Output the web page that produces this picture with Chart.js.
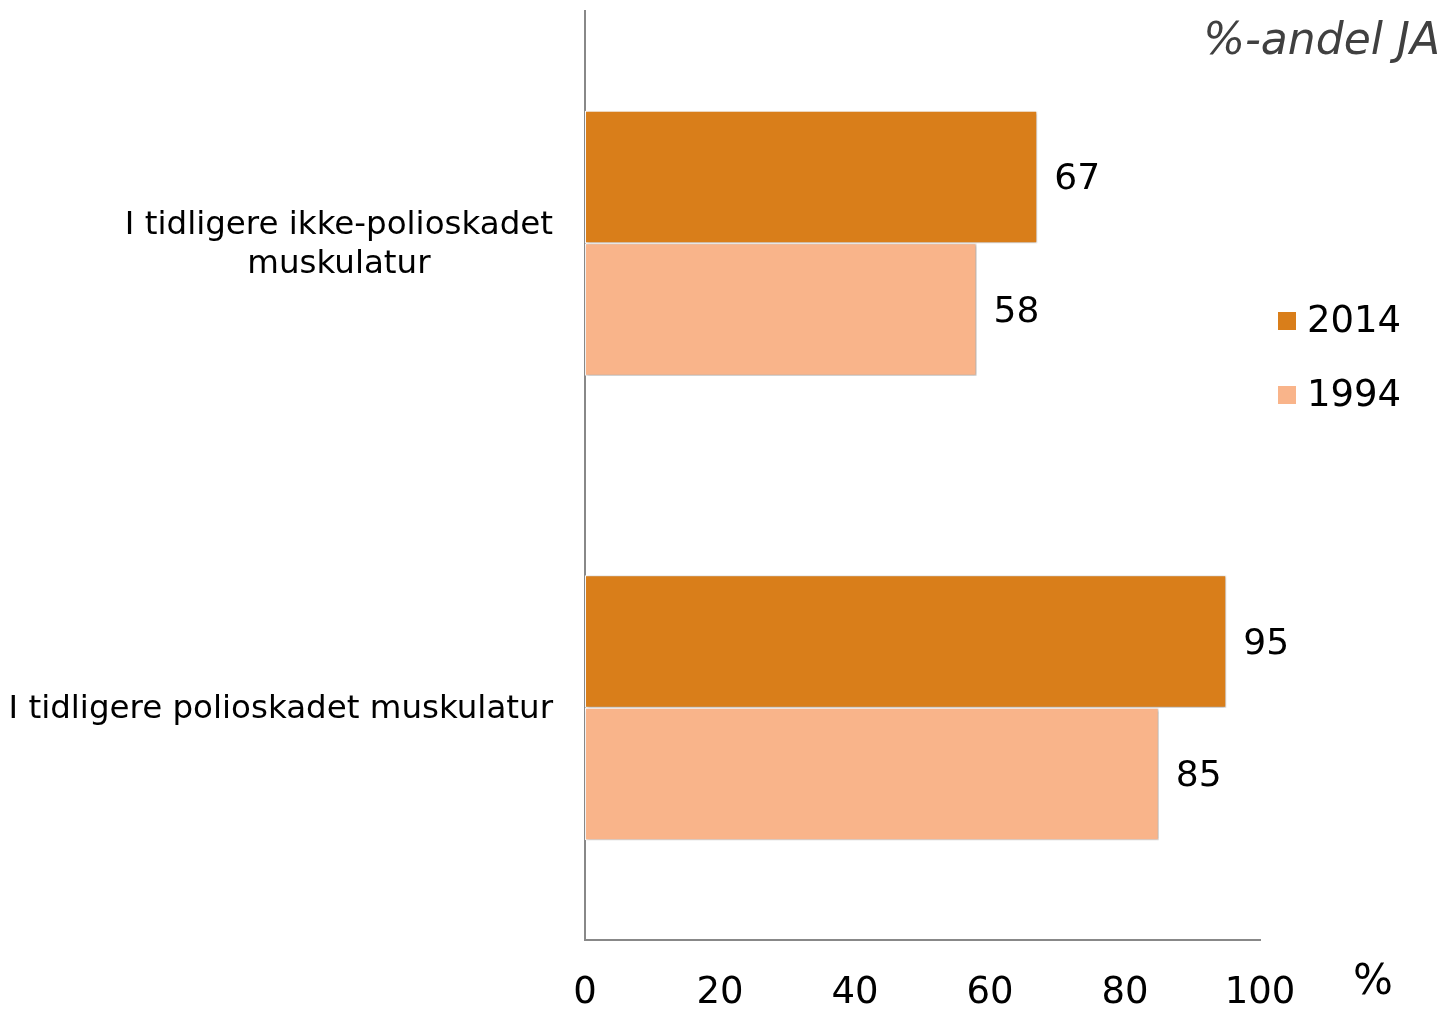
<!DOCTYPE html>
<html><head><meta charset="utf-8">
<script src="https://cdn.jsdelivr.net/npm/chart.js@4/dist/chart.umd.min.js"></script>
<style>html,body{margin:0;padding:0;background:#fff}#wrap{width:1445px;height:1009px}</style>
</head><body><div id="wrap"><canvas id="c" width="1445" height="1009"></canvas></div>
<script>
const categories = [["I tidligere ikke-polioskadet","muskulatur"], ["I tidligere polioskadet muskulatur"]];
const seriesNames = ["2014", "1994"];
const values2014 = [67, 95];
const values1994 = [58, 85];
const xTicks = [0, 20, 40, 60, 80, 100];
const titleText = "%-andel JA";
const unitText = "%";
const colors = ["#D97E1A", "#F9B48A"];
const FONT = "'DejaVu Sans', Verdana, sans-serif";

const overlay = {
  id: 'overlay',
  beforeDatasetsDraw(chart) {
    const ctx = chart.ctx;
    ctx.save();
    ctx.shadowColor = 'rgba(0,0,0,0.35)';
    ctx.shadowBlur = 3;
    ctx.shadowOffsetX = 1;
    ctx.shadowOffsetY = 1;
  },
  afterDatasetsDraw(chart) {
    const ctx = chart.ctx;
    ctx.restore();
    ctx.save();
    ctx.font = "36px " + FONT;
    ctx.fillStyle = "#000";
    ctx.textBaseline = "middle";
    ctx.textAlign = "left";
    chart.data.datasets.forEach((ds, i) => {
      chart.getDatasetMeta(i).data.forEach((bar, j) => {
        ctx.fillText(String(ds.data[j]), bar.x + 17, bar.y + 3);
      });
    });
    // category labels
    const yScale = chart.scales.y;
    ctx.font = "32.5px " + FONT;
    ctx.textAlign = "center";
    const lh = 39;
    categories.forEach((lines, j) => {
      const cy = yScale.getPixelForValue(j) + 2;
      let maxW = 0;
      lines.forEach(l => { maxW = Math.max(maxW, ctx.measureText(l).width); });
      const cx = 553 - maxW / 2;
      lines.forEach((l, k) => {
        ctx.fillText(l, cx, cy + (k - (lines.length - 1) / 2) * lh);
      });
    });
    // legend
    ctx.textAlign = "left";
    ctx.font = "37px " + FONT;
    const ly = [321, 395];
    seriesNames.forEach((n, i) => {
      ctx.fillStyle = colors[i];
      ctx.fillRect(1278, ly[i] - 9, 18, 18);
      ctx.fillStyle = "#000";
      ctx.fillText(n, 1307, ly[i] + 1);
    });
    // title
    ctx.font = "italic 44px " + FONT;
    ctx.fillStyle = "#404040";
    ctx.textAlign = "right";
    ctx.fillText(titleText, 1440, 43);
    // unit
    ctx.font = "42px " + FONT;
    ctx.fillStyle = "#000";
    ctx.textAlign = "left";
    ctx.fillText(unitText, 1353, 983);
    ctx.restore();
  }
};

new Chart(document.getElementById('c'), {
  type: 'bar',
  data: {
    labels: categories.map(c => c.join(' ')),
    datasets: [
      { label: seriesNames[0], data: values2014, backgroundColor: colors[0], borderColor: '#fff', borderWidth: 1, borderSkipped: false },
      { label: seriesNames[1], data: values1994, backgroundColor: colors[1], borderColor: '#fff', borderWidth: 1, borderSkipped: false }
    ]
  },
  options: {
    indexAxis: 'y',
    responsive: false,
    animation: false,
    devicePixelRatio: 1,
    layout: { padding: { left: 0, right: 185, top: 11, bottom: 0 } },
    categoryPercentage: 0.57,
    barPercentage: 1.0,
    plugins: { legend: { display: false }, tooltip: { enabled: false } },
    scales: {
      x: {
        min: 0, max: 100,
        afterBuildTicks(scale) { scale.ticks = xTicks.map(v => ({ value: v })); },
        grid: { display: false, drawTicks: false },
        border: { display: true, color: '#888', width: 2 },
        ticks: { font: { family: FONT, size: 37 }, color: '#000', padding: 31, maxRotation: 0 },
        afterFit(scale) { scale.height = 69; scale.paddingLeft = 0; }
      },
      y: {
        grid: { display: false, drawTicks: false },
        border: { display: true, color: '#888', width: 2 },
        ticks: { display: false },
        afterFit(scale) { scale.width = 585; scale.paddingTop = 0; scale.paddingBottom = 0; }
      }
    }
  },
  plugins: [overlay]
});
</script>
</body></html>
